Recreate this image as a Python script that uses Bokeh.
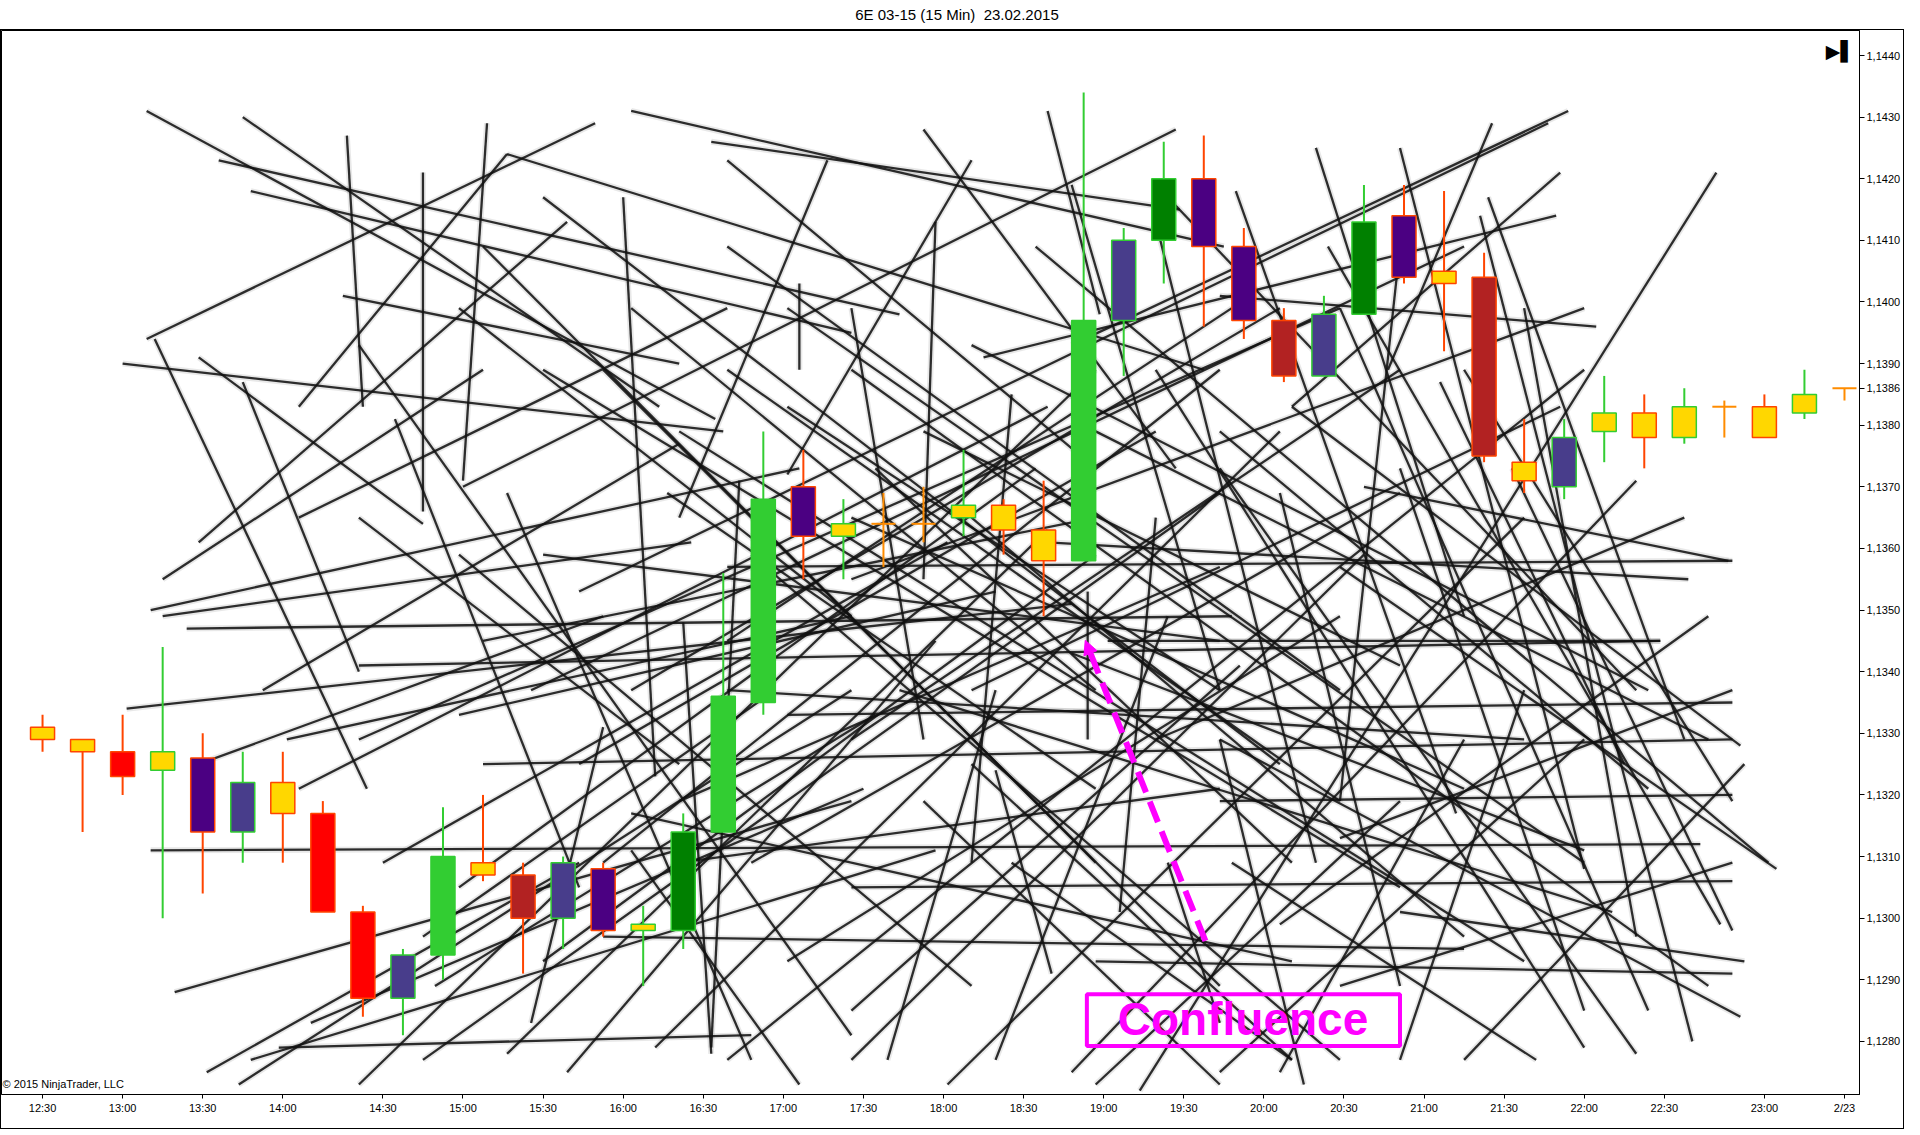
from bokeh.plotting import figure
from bokeh.models import (Range1d, FixedTicker, CustomJSTickFormatter, Label,
                          BoxAnnotation, Arrow, NormalHead, Div, ColumnDataSource)
from bokeh.layouts import column
from bokeh.embed import file_html
from bokeh.resources import INLINE

TITLE = "6E 03-15 (15 Min)&nbsp; 23.02.2015"

# ---- candles (15 min bars, index 0 = 12:30) ----
bar_idx = list(range(46))
opens = [1.1331, 1.1329, 1.1327, 1.1324, 1.1326, 1.1314, 1.1322, 1.1317, 1.1301, 1.1287,
         1.1294, 1.1309, 1.1307, 1.1300, 1.1308, 1.1298, 1.1298, 1.1314, 1.1335, 1.1370,
         1.1362, 1.1364, 1.1364, 1.1365, 1.1367, 1.1363, 1.1358, 1.1397, 1.1410, 1.1420,
         1.1409, 1.1397, 1.1388, 1.1398, 1.1414, 1.1405, 1.1404, 1.1374, 1.1370, 1.1379,
         1.1382, 1.1378, 1.1383, 1.1383, 1.1382, 1.1386]
highs = [1.1333, 1.1329, 1.1333, 1.1344, 1.1330, 1.1327, 1.1327, 1.1319, 1.1302, 1.1295,
         1.1318, 1.1320, 1.1309, 1.1310, 1.1309, 1.1302, 1.1317, 1.1356, 1.1379, 1.1376,
         1.1368, 1.1369, 1.1370, 1.1376, 1.1368, 1.1371, 1.1434, 1.1412, 1.1426, 1.1427,
         1.1412, 1.1399, 1.1401, 1.1419, 1.1419, 1.1418, 1.1408, 1.1381, 1.1381, 1.1388,
         1.1385, 1.1386, 1.1384, 1.1385, 1.1389, 1.1386]
lows = [1.1327, 1.1314, 1.1320, 1.1300, 1.1304, 1.1309, 1.1309, 1.1301, 1.1284, 1.1281,
        1.1290, 1.1306, 1.1291, 1.1295, 1.1297, 1.1289, 1.1295, 1.1314, 1.1333, 1.1355,
        1.1355, 1.1357, 1.1361, 1.1362, 1.1359, 1.1349, 1.1358, 1.1388, 1.1403, 1.1396,
        1.1394, 1.1387, 1.1388, 1.1398, 1.1403, 1.1392, 1.1374, 1.1369, 1.1368, 1.1374,
        1.1373, 1.1377, 1.1378, 1.1378, 1.1381, 1.1384]
closes = [1.1329, 1.1327, 1.1323, 1.1327, 1.1314, 1.1322, 1.1317, 1.1301, 1.1287, 1.1294,
          1.1310, 1.1307, 1.1300, 1.1309, 1.1298, 1.1299, 1.1314, 1.1336, 1.1368, 1.1362,
          1.1364, 1.1364, 1.1364, 1.1367, 1.1363, 1.1358, 1.1397, 1.1410, 1.1420, 1.1409,
          1.1397, 1.1388, 1.1398, 1.1413, 1.1404, 1.1403, 1.1375, 1.1371, 1.1378, 1.1382,
          1.1378, 1.1383, 1.1383, 1.1378, 1.1385, 1.1386]
body_colors = ["gold", "gold", "red", "gold", "indigo", "darkslateblue", "gold", "red", "red", "darkslateblue",
               "limegreen", "gold", "firebrick", "darkslateblue", "indigo", "gold", "green", "limegreen", "limegreen", "indigo",
               "gold", "darkorange", "darkorange", "gold", "gold", "gold", "limegreen", "darkslateblue", "green", "indigo",
               "indigo", "firebrick", "darkslateblue", "green", "indigo", "gold", "firebrick", "gold", "darkslateblue", "gold",
               "gold", "gold", "darkorange", "gold", "gold", "darkorange"]

# ---- axes ----
time_tick_pos = [0, 2, 4, 6, 8.5, 10.5, 12.5, 14.5, 16.5, 18.5, 20.5, 22.5, 24.5, 26.5,
                 28.5, 30.5, 32.5, 34.5, 36.5, 38.5, 40.5, 43, 45]
time_tick_labels = ["12:30", "13:00", "13:30", "14:00", "14:30", "15:00", "15:30", "16:00",
                    "16:30", "17:00", "17:30", "18:00", "18:30", "19:00", "19:30", "20:00",
                    "20:30", "21:00", "21:30", "22:00", "22:30", "23:00", "2/23"]
price_ticks = [1.128, 1.129, 1.130, 1.131, 1.132, 1.133, 1.134, 1.135, 1.136, 1.137,
               1.138, 1.139, 1.140, 1.141, 1.142, 1.143, 1.144]
last_price = 1.1386

# ---- drawn trend lines (bar index, price) ----
line_x0 = [2.6, 5.0, 4.4, 5.2, 2.6, 2.8, 2.0, 7.6, 9.5, 11.1,
           7.5, 3.9, 5.0, 2.7, 3.0, 2.1, 3.6, 2.7, 3.3, 4.1,
           5.9, 5.2, 6.7, 11.6, 14.7, 16.7, 22.0, 25.1, 23.2, 38.1,
           36.2, 37.8, 31.8, 41.8, 29.8, 28.3, 38.8, 41.1, 42.1, 40.4,
           42.4, 42.2, 43.3, 42.2, 42.4, 41.2, 39.8, 38.5, 14.5, 16.0,
           18.9, 22.3, 26.1, 7.9, 9.5, 13.1, 4.9, 11.6, 15.3, 17.1,
           20.2, 22.6, 25.7, 14.0, 6.4, 7.9, 12.2, 13.4, 17.1, 20.2,
           7.9, 11.0, 12.5, 14.0, 17.1, 18.6, 20.2, 23.2, 24.8, 26.3,
           27.8, 32.4, 15.6, 17.7, 10.4, 7.9, 20.2, 22.0, 7.9, 11.0,
           17.1, 20.2, 14.0, 18.6, 26.3, 6.1, 17.4, 23.8, 28.1, 33.9,
           29.4, 36.1, 37.0, 32.1, 28.1, 34.9, 19.6, 17.1, 6.4, 3.9,
           3.0, 12.2, 21.1, 23.8, 30.9, 32.4, 33.9, 29.7, 21.4, 25.7,
           14.7, 15.9, 9.5, 9.8, 31.2, 18.9, 23.2, 10.4,
           12.5, 14.7, 17.1, 15.9, 10.4, 18.6, 20.8, 23.2, 13.4, 14.7,
           15.9, 17.7, 18.6, 20.2, 12.5, 10.4, 8.5, 11.0, 12.5, 17.1,
           20.2, 24.2, 27.8, 30.9, 33.9, 35.5, 29.4, 27.8, 30.9, 32.4,
           26.3, 29.4, 35.5, 20.2, 23.2, 6.4, 5.5, 3.9, 8.8, 11.6,
           25.7, 27.8, 33.9, 22.0, 24.2]
line_p0 = [1.1431, 1.1430, 1.1423, 1.1418, 1.1394, 1.1394, 1.1390, 1.1427, 1.1421, 1.1429,
           1.1401, 1.1391, 1.1387, 1.1350, 1.1349, 1.1334, 1.1347, 1.1311, 1.1288, 1.1275,
           1.1279, 1.1277, 1.1283, 1.1424, 1.1431, 1.1426, 1.1428, 1.1431, 1.1423, 1.1431,
           1.1429, 1.1414, 1.1425, 1.1421, 1.1418, 1.1428, 1.1396, 1.1355, 1.1358, 1.1345,
           1.1328, 1.1320, 1.1308, 1.1298, 1.1284, 1.1280, 1.1278, 1.1308, 1.1417, 1.1348,
           1.1403, 1.1413, 1.1353, 1.1273, 1.1277, 1.1275, 1.1273, 1.1278, 1.1279, 1.1277,
           1.1277, 1.1273, 1.1275, 1.1309, 1.1321, 1.1329, 1.1337, 1.1353, 1.1345, 1.1329,
           1.1393, 1.1409, 1.1417, 1.1389, 1.1409, 1.1399, 1.1389, 1.1393, 1.1409, 1.1379,
           1.1389, 1.1399, 1.1369, 1.1359, 1.1359, 1.1365, 1.1365, 1.1379, 1.1341, 1.1325,
           1.1357, 1.1305, 1.1297, 1.1333, 1.1293, 1.1329, 1.1371, 1.1324, 1.1309, 1.1277,
           1.1329, 1.1417, 1.1399, 1.1409, 1.1417, 1.1387, 1.1423, 1.1423, 1.1383, 1.1361,
           1.1355, 1.1283, 1.1277, 1.1277, 1.1275, 1.1289, 1.1301, 1.1309, 1.1337, 1.1343,
           1.1317, 1.1309, 1.1297, 1.1289, 1.1383, 1.1273, 1.1325, 1.1333,
           1.1389, 1.1399, 1.1389, 1.1379, 1.1399, 1.1383, 1.1373, 1.1365, 1.1325, 1.1337,
           1.1319, 1.1309, 1.1293, 1.1285, 1.1293, 1.1305, 1.1309, 1.1345, 1.1359, 1.1337,
           1.1399, 1.1385, 1.1365, 1.1369, 1.1373, 1.1389, 1.1379, 1.1329, 1.1299, 1.1313,
           1.1273, 1.1275, 1.1277, 1.1355, 1.1337, 1.1365, 1.1337, 1.1325, 1.1381, 1.1369,
           1.1419, 1.1413, 1.1409, 1.1319, 1.1309]
line_x1 = [16.8, 15.4, 21.4, 20.2, 13.8, 8.1, 17.0, 8.0, 9.5, 10.5,
           15.9, 9.5, 7.9, 18.9, 16.2, 25.7, 29.7, 41.4, 20.2, 13.4,
           17.7, 22.3, 20.5, 29.0, 29.5, 28.4, 28.3, 26.4, 18.6, 25.7,
           33.6, 23.5, 35.5, 27.4, 35.3, 10.5, 29.4, 25.1, 33.0, 26.6,
           31.2, 29.4, 32.4, 36.7, 29.4, 35.9, 29.4, 33.9, 15.3, 16.7,
           18.9, 22.0, 26.1, 26.3, 29.4, 22.3, 20.2, 25.1, 30.9, 38.5,
           33.0, 37.0, 39.8, 29.4, 25.1, 32.4, 35.5, 37.6, 29.7, 33.9,
           20.2, 26.3, 30.9, 29.4, 32.4, 38.5, 41.6, 40.1, 43.1, 41.6,
           38.5, 40.1, 26.3, 32.4, 23.2, 15.9, 35.5, 33.9, 40.4, 42.2,
           42.2, 42.2, 35.5, 42.2, 42.2, 20.2, 16.7, 25.2, 29.4, 37.0,
           31.5, 41.0, 39.8, 41.9, 39.8, 39.5, 15.9, 26.3, 11.6, 13.1,
           11.0, 14.0, 23.8, 28.1, 35.5, 42.2, 42.5, 37.3, 39.2, 38.5,
           31.2, 29.4, 18.3, 20.8, 37.9, 14.7, 31.2, 23.8,
           33.9, 26.3, 32.4, 37.0, 20.2, 29.4, 31.2, 35.5, 27.8, 30.9,
           29.4, 33.9, 32.4, 29.9, 26.3, 24.8, 22.6, 26.3, 29.4, 37.0,
           22.0, 23.2, 26.9, 33.9, 38.5, 42.2, 40.1, 41.0, 41.6, 42.2,
           33.9, 38.5, 42.5, 38.5, 37.9, 17.1, 15.9, 14.0, 13.4, 17.7,
           29.4, 31.8, 32.4, 29.4, 31.2]
line_p1 = [1.1381, 1.1383, 1.1398, 1.1395, 1.1429, 1.1321, 1.1379, 1.1383, 1.1366, 1.1371,
           1.1390, 1.1364, 1.1340, 1.1373, 1.1361, 1.1351, 1.1349, 1.1312, 1.1319, 1.1309,
           1.1281, 1.1311, 1.1321, 1.1389, 1.1409, 1.1415, 1.1373, 1.1398, 1.1372, 1.1393,
           1.1389, 1.1391, 1.1349, 1.1272, 1.1317, 1.1370, 1.1401, 1.1361, 1.1370, 1.1345,
           1.1383, 1.1319, 1.1357, 1.1373, 1.1329, 1.1414, 1.1373, 1.1425, 1.1323, 1.1278,
           1.1389, 1.1355, 1.1329, 1.1389, 1.1369, 1.1345, 1.1337, 1.1363, 1.1379, 1.1389,
           1.1359, 1.1365, 1.1371, 1.1389, 1.1383, 1.1399, 1.1409, 1.1429, 1.1399, 1.1389,
           1.1281, 1.1309, 1.1325, 1.1289, 1.1337, 1.1309, 1.1289, 1.1337, 1.1309, 1.1329,
           1.1279, 1.1285, 1.1321, 1.1277, 1.1289, 1.1325, 1.1321, 1.1341, 1.1345, 1.1329,
           1.1358, 1.1306, 1.1295, 1.1335, 1.1291, 1.1349, 1.1279, 1.1291, 1.1283, 1.1337,
           1.1273, 1.1329, 1.1297, 1.1299, 1.1337, 1.1325, 1.1365, 1.1373, 1.1424, 1.1413,
           1.1389, 1.1331, 1.1337, 1.1349, 1.1329, 1.1309, 1.1293, 1.1277, 1.1301, 1.1311,
           1.1293, 1.1321, 1.1337, 1.1333, 1.1421, 1.1311, 1.1277, 1.1353,
           1.1305, 1.1337, 1.1319, 1.1293, 1.1349, 1.1337, 1.1309, 1.1297, 1.1379, 1.1399,
           1.1357, 1.1369, 1.1349, 1.1341, 1.1359, 1.1373, 1.1361, 1.1365, 1.1345, 1.1329,
           1.1329, 1.1309, 1.1301, 1.1289, 1.1285, 1.1319, 1.1321, 1.1365, 1.1349, 1.1337,
           1.1319, 1.1329, 1.1325, 1.1399, 1.1383, 1.1399, 1.1377, 1.1349, 1.1305, 1.1277,
           1.1337, 1.1309, 1.1319, 1.1273, 1.1277]

# ---- "Confluence" drawing ----
arrow_x0, arrow_p0 = 29.04, 1.12963
arrow_x1, arrow_p1 = 26.04, 1.13451
box_left, box_right = 26.08, 33.90
box_top, box_bottom = 1.128764, 1.127924
conf_x, conf_p = 29.98, 1.12836

UP = "#32CD32"
DOWN = "#FF4500"
DOJI = "#FF8C00"
MAGENTA = "#FF00FF"
FONT = "Liberation Sans"

# ---- build sources ----
c = dict(x=[], top=[], bottom=[], hi=[], lo=[], fill=[], border=[])
d = dict(x=[], xl=[], xr=[], close=[], hi=[], lo=[])
for i, o, h, l, cl, col in zip(bar_idx, opens, highs, lows, closes, body_colors):
    if cl == o:
        d["x"].append(i); d["xl"].append(i - 0.3); d["xr"].append(i + 0.3)
        d["close"].append(cl); d["hi"].append(h); d["lo"].append(l)
    else:
        c["x"].append(i); c["top"].append(max(o, cl)); c["bottom"].append(min(o, cl))
        c["hi"].append(h); c["lo"].append(l); c["fill"].append(col)
        c["border"].append(UP if cl > o else DOWN)
csrc = ColumnDataSource(c)
dsrc = ColumnDataSource(d)
lsrc = ColumnDataSource(dict(x0=line_x0, y0=line_p0, x1=line_x1, y1=line_p1))

p = figure(frame_width=1856, frame_height=1062,
           x_range=Range1d(-1.025, 45.375), y_range=Range1d(1.127138, 1.144406),
           y_axis_location="right", output_backend="svg", toolbar_location=None,
           min_border_left=0, min_border_top=0, min_border_right=46, min_border_bottom=36,
           background_fill_color="white", border_fill_color="white",
           outline_line_color="black", outline_line_width=1,
           styles={"border": "1px solid black"})
p.grid.visible = False

# trend lines (soft halo + dark core)
p.segment("x0", "y0", "x1", "y1", source=lsrc, line_color="#000000", line_alpha=0.09, line_width=6)
p.segment("x0", "y0", "x1", "y1", source=lsrc, line_color="#111111", line_alpha=0.88, line_width=2.3)

# candles
p.segment("x", "lo", "x", "hi", source=csrc, line_color="border", line_width=2)
p.vbar(x="x", top="top", bottom="bottom", width=0.6, source=csrc,
       fill_color="fill", line_color="border", line_width=1.5)
p.segment("x", "lo", "x", "hi", source=dsrc, line_color=DOJI, line_width=2)
p.segment("xl", "close", "xr", "close", source=dsrc, line_color=DOJI, line_width=2)

# magenta arrow + box
p.add_layout(Arrow(end=NormalHead(size=14, fill_color=MAGENTA, line_color=MAGENTA),
                   x_start=arrow_x0, y_start=arrow_p0, x_end=arrow_x1, y_end=arrow_p1,
                   line_color=MAGENTA, line_width=6, line_dash="22 10"))
p.add_layout(BoxAnnotation(left=box_left, right=box_right, top=box_top, bottom=box_bottom,
                           fill_alpha=0, line_alpha=1.0, line_color=MAGENTA, line_width=4))
p.add_layout(Label(x=conf_x, y=conf_p, text="Confluence", text_align="center",
                   text_baseline="middle", text_font=FONT, text_font_style="bold",
                   text_font_size="46px", text_color=MAGENTA))

# watermark & icon
p.add_layout(Label(x=-1.0, y=1.127205, text="\u00a9 2015 NinjaTrader, LLC", text_font=FONT,
                   text_font_size="11px", text_baseline="bottom", text_color="black"))
p.add_layout(Label(x=44.9, y=1.14407, text="\u25b6\u258c", text_font="DejaVu Sans",
                   text_font_size="19px", text_align="center",
                   text_baseline="middle", text_color="black"))

# x axis
xa = p.xaxis[0]
xa.ticker = FixedTicker(ticks=time_tick_pos)
xa.formatter = CustomJSTickFormatter(args=dict(pos=time_tick_pos, lbl=time_tick_labels), code="""
let b = 0, dmin = 1e9;
for (let i = 0; i < pos.length; i++) { const e = Math.abs(pos[i] - tick); if (e < dmin) { dmin = e; b = i; } }
return lbl[b];""")
xa.major_tick_out = 4
xa.major_tick_in = 0
xa.minor_tick_out = 0
xa.minor_tick_in = 0
xa.major_label_standoff = 3
xa.major_label_text_font = FONT
xa.major_label_text_font_size = "11px"
xa.major_label_text_color = "black"
xa.axis_line_color = "black"

# y axis (price scale on the right, plus last-price marker)
ya = p.yaxis[0]
ya.ticker = FixedTicker(ticks=price_ticks + [last_price])
ya.formatter = CustomJSTickFormatter(code="return tick.toFixed(4).replace('.', ',');")
ya.major_tick_out = 5
ya.major_tick_in = 0
ya.minor_tick_out = 0
ya.minor_tick_in = 0
ya.major_label_standoff = 2
ya.major_label_text_font = FONT
ya.major_label_text_font_size = "11px"
ya.major_label_text_color = "black"
ya.axis_line_color = "black"

title = Div(text=TITLE, width=1904, height=19,
            styles={"text-align": "center", "font-family": FONT, "font-size": "15px",
                    "line-height": "19px", "color": "black", "width": "1904px"})

layout = column(title, p, spacing=0)
open("out.html", "w").write(file_html(layout, INLINE))
